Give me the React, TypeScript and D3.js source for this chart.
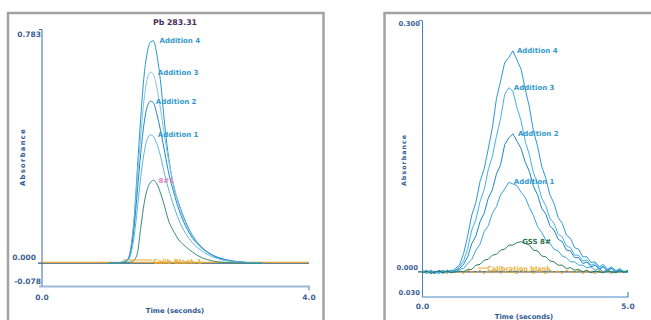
import React from 'react'
import * as d3 from 'd3'

// ---- left panel (Pb 283.31) ----
const leftTitle = 'Pb 283.31'
const leftTime = [1.0, 1.2, 1.28, 1.33, 1.38, 1.43, 1.48, 1.53, 1.58, 1.63, 1.67, 1.72, 1.78, 1.84, 1.9, 1.97, 2.05, 2.15, 2.25, 2.4, 2.55, 2.7, 2.9, 3.1, 3.3]
const leftAdd4 = [0, 0.003, 0.012, 0.05, 0.15, 0.32, 0.49, 0.63, 0.71, 0.742, 0.745, 0.70, 0.60, 0.46, 0.35, 0.26, 0.2, 0.14, 0.095, 0.052, 0.028, 0.015, 0.006, 0.002, 0]
const leftAdd3 = [0, 0.003, 0.012, 0.045, 0.14, 0.29, 0.43, 0.55, 0.62, 0.64, 0.632, 0.59, 0.51, 0.42, 0.34, 0.265, 0.195, 0.135, 0.092, 0.052, 0.028, 0.015, 0.006, 0.002, 0]
const leftAdd2 = [0, 0.003, 0.01, 0.04, 0.12, 0.245, 0.37, 0.47, 0.527, 0.543, 0.537, 0.5, 0.44, 0.37, 0.3, 0.24, 0.18, 0.125, 0.086, 0.05, 0.027, 0.014, 0.006, 0.002, 0]
const leftAdd1 = [0, 0.003, 0.008, 0.03, 0.09, 0.185, 0.29, 0.37, 0.418, 0.43, 0.424, 0.4, 0.355, 0.295, 0.245, 0.195, 0.145, 0.1, 0.07, 0.04, 0.022, 0.011, 0.005, 0.002, 0]
const leftSample = [0, 0.001, 0.002, 0.004, 0.01, 0.035, 0.12, 0.2, 0.25, 0.272, 0.278, 0.266, 0.232, 0.188, 0.14, 0.108, 0.078, 0.056, 0.038, 0.018, 0.008, 0.003, 0.001, 0, 0]
const leftBlankTime = [0, 4]
const leftBlank = [0.003, 0.003]
const leftYTicks = ['0.783', '0.000', '-0.078']
const leftXTicks = ['0.0', '4.0']

// ---- right panel ----
const rightTime = [0, 0.1, 0.2, 0.3, 0.4, 0.5, 0.6, 0.7, 0.8, 0.9, 1.0, 1.1, 1.2, 1.3, 1.4, 1.5, 1.6, 1.7, 1.8, 1.9, 2.0, 2.1, 2.2, 2.3, 2.4, 2.5, 2.6, 2.7, 2.8, 2.9, 3.0, 3.1, 3.2, 3.3, 3.4, 3.5, 3.6, 3.7, 3.8, 3.9, 4.0, 4.1, 4.2, 4.3, 4.4, 4.5, 4.6, 4.7, 4.8, 4.9, 5.0]
const rightAdd4 = [0.001, -0.002, 0.002, -0.001, 0.001, -0.002, 0.002, 0, 0.004, 0.008, 0.022, 0.043, 0.068, 0.083, 0.108, 0.123, 0.147, 0.172, 0.207, 0.228, 0.25, 0.256, 0.264, 0.253, 0.242, 0.218, 0.197, 0.168, 0.15, 0.126, 0.112, 0.092, 0.082, 0.065, 0.058, 0.044, 0.04, 0.029, 0.027, 0.018, 0.018, 0.011, 0.012, 0.006, 0.009, 0.003, 0.006, 0.001, 0.004, 0, 0.002]
const rightAdd3 = [0, 0.002, -0.002, 0.001, -0.001, 0.002, -0.001, 0.001, 0.002, 0.006, 0.013, 0.028, 0.05, 0.063, 0.084, 0.098, 0.122, 0.138, 0.162, 0.183, 0.212, 0.22, 0.216, 0.196, 0.18, 0.156, 0.14, 0.118, 0.106, 0.088, 0.079, 0.064, 0.058, 0.045, 0.042, 0.031, 0.029, 0.02, 0.02, 0.013, 0.014, 0.008, 0.01, 0.004, 0.007, 0.002, 0.005, 0, 0.003, -0.001, 0.002]
const rightAdd2 = [-0.001, 0.001, 0, -0.002, 0.002, 0, 0.001, -0.001, 0.002, 0.004, 0.009, 0.018, 0.034, 0.043, 0.06, 0.07, 0.088, 0.098, 0.117, 0.128, 0.152, 0.16, 0.165, 0.156, 0.147, 0.131, 0.12, 0.102, 0.092, 0.076, 0.069, 0.055, 0.05, 0.039, 0.036, 0.026, 0.025, 0.017, 0.017, 0.01, 0.012, 0.006, 0.008, 0.003, 0.006, 0.001, 0.004, 0, 0.002, -0.001, 0.001]
const rightAdd1 = [0.002, -0.001, 0.001, 0, -0.002, 0.001, 0, 0.002, 0, 0.003, 0.004, 0.01, 0.015, 0.026, 0.033, 0.048, 0.055, 0.07, 0.078, 0.092, 0.099, 0.107, 0.105, 0.103, 0.095, 0.089, 0.077, 0.067, 0.054, 0.047, 0.038, 0.034, 0.027, 0.025, 0.019, 0.017, 0.012, 0.012, 0.008, 0.008, 0.005, 0.006, 0.002, 0.004, 0, 0.003, -0.001, 0.002, 0, 0.001, -0.001]
const rightSample = [-0.001, 0.001, -0.002, 0, 0.001, -0.001, 0.001, -0.001, 0, 0.001, 0, 0.003, 0.003, 0.008, 0.009, 0.014, 0.015, 0.02, 0.021, 0.026, 0.027, 0.032, 0.032, 0.035, 0.036, 0.034, 0.032, 0.026, 0.025, 0.019, 0.018, 0.013, 0.012, 0.008, 0.008, 0.004, 0.005, 0.002, 0.003, 0, 0.002, -0.001, 0.001, 0, -0.001, 0.001, 0, -0.001, 0.001, 0, 0.001]
const rightBlank = [0.001, -0.001, 0.002, -0.002, 0.001, 0, -0.002, 0.002, -0.001, 0.001, -0.002, 0.002, 0, -0.001, 0.002, -0.002, 0.001, -0.001, 0.002, -0.002, 0.001, -0.001, 0, -0.002, 0.002, -0.001, 0.001, -0.002, 0.001, 0, -0.002, 0.002, -0.001, 0.001, -0.002, 0.002, 0, -0.001, 0.002, -0.002, 0.001, 0, -0.002, 0.002, -0.001, 0.001, -0.002, 0.002, 0, -0.001, 0.001]
const rightYTicks = ['0.300', '0.000', '0.030']
const rightXTicks = ['0.0', '5.0']

const additionNames = ['Addition 4', 'Addition 3', 'Addition 2', 'Addition 1']

const tickFont = { fontFamily: '"DejaVu Sans", Verdana, sans-serif', fontWeight: 700 }
const axisBlue = '#3d6a9e'
const labelBlue = '#3399cc'

function peakOf(vals: number[], times: number[]) {
  let i = d3.maxIndex(vals)
  return { t: times[i], v: vals[i] }
}

function LeftPanel() {
  const x = d3.scaleLinear().domain([0, 4]).range([42, 309])
  const y = d3.scaleLinear().domain([-0.078, 0.783]).range([286.5, 29.5])
  const line = d3.line<number>()
    .x((d, i) => x(leftTime[i]))
    .y(d => y(d))
    .curve(d3.curveMonotoneX)
  const blankLine = d3.line<number>().x((d, i) => x(leftBlankTime[i])).y(d => y(d))

  const adds = [leftAdd4, leftAdd3, leftAdd2, leftAdd1]
  const addColors = ['#2a96d0', '#7cc3e6', '#1f88c4', '#5ab4e0']
  const labelDx = [6, 7, 5, 7]
  const sPeak = peakOf(leftSample, leftTime)

  return (
    <g>
      <rect x={8} y={13} width={315.5} height={330} fill='#fff' stroke='#a3a3a3' strokeWidth={2.5} />
      <text x={175} y={25} textAnchor='middle' fontSize={7.8} fill='#4b2d5e' style={tickFont}>{leftTitle}</text>

      {/* axes */}
      <path d={`M39,${y(0.783)}H42V${y(-0.078)}`} fill='none' stroke={axisBlue} strokeWidth={1} />
      <path d={`M39,${y(-0.078)}H${x(4)}v4`} fill='none' stroke='#9bb8d8' strokeWidth={2} />
      <line x1={38} x2={x(4)} y1={y(0)} y2={y(0)} stroke='#2c5a86' strokeWidth={1.2} />

      <text x={41} y={y(0.783) + 7} textAnchor='end' fontSize={7.5} fill='#3d5f96' style={tickFont}>{leftYTicks[0]}</text>
      <text x={36} y={y(0) - 3} textAnchor='end' fontSize={7.5} fill='#3d5f96' style={tickFont}>{leftYTicks[1]}</text>
      <text x={41} y={y(-0.078) - 3} textAnchor='end' fontSize={7.5} fill='#3d5f96' style={tickFont}>{leftYTicks[2]}</text>
      <text x={x(0)} y={300} textAnchor='middle' fontSize={7.5} fill='#3d5f96' style={tickFont}>{leftXTicks[0]}</text>
      <text x={x(4)} y={300} textAnchor='middle' fontSize={7.5} fill='#3d5f96' style={tickFont}>{leftXTicks[1]}</text>
      <text x={175} y={313} textAnchor='middle' fontSize={6.8} fill='#2e5a94' style={tickFont}>Time (seconds)</text>
      <text transform='translate(25,157) rotate(-90)' textAnchor='middle' fontSize={6.8} letterSpacing={1.3} fill='#2e5a94' style={tickFont}>Absorbance</text>

      {/* calib blank label sits under the traces */}
      <line x1={123} x2={152} y1={260} y2={260} stroke='#e8a830' strokeWidth={1} />
      <text x={153} y={264} fontSize={6.6} fill='#e8a830' style={tickFont}>Calib Blank 1</text>
      <path d={blankLine(leftBlank) || ''} fill='none' stroke='#e3a52e' strokeWidth={1.2} />

      {adds.map((vals, k) => (
        <path key={k} d={line(vals) || ''} fill='none' stroke={addColors[k]} strokeWidth={1} />
      ))}
      <path d={line(leftSample) || ''} fill='none' stroke='#3b8a78' strokeWidth={1} />

      {adds.map((vals, k) => {
        const p = peakOf(vals, leftTime)
        return (
          <text key={k} x={x(p.t) + labelDx[k]} y={y(p.v) + 2.5} fontSize={7} fill={labelBlue} style={tickFont}>{additionNames[k]}</text>
        )
      })}
      <text x={x(sPeak.t) + 5} y={y(sPeak.v) + 2.5} fontSize={7} fill='#d68ac6' style={tickFont}>8#1</text>
    </g>
  )
}

function RightPanel() {
  const x = d3.scaleLinear().domain([0, 5]).range([422.5, 628])
  const y = d3.scaleLinear().domain([-0.03, 0.3]).range([297, 20.7])
  const line = d3.line<number>()
    .x((d, i) => x(rightTime[i]))
    .y(d => y(d))

  const adds = [rightAdd4, rightAdd3, rightAdd2, rightAdd1]
  const addColors = ['#2a9ad6', '#48b0e2', '#1e88c8', '#3aa4dc']
  const labelDx = [4, 5, 5, 5]
  const sPeak = peakOf(rightSample, rightTime)

  return (
    <g>
      <rect x={384.5} y={13} width={400} height={330} fill='#fff' stroke='#a3a3a3' strokeWidth={2.5} />

      <path d={`M419,${y(0.3)}H422.5V${y(-0.03)}`} fill='none' stroke='#4a7fc0' strokeWidth={1} />
      <path d={`M422.5,${y(-0.03)}H${x(5)}v-5`} fill='none' stroke='#4f88c8' strokeWidth={1.2} />
      <line x1={418} x2={x(5)} y1={y(0)} y2={y(0)} stroke='#2c5a86' strokeWidth={1.2} />

      <text x={420} y={y(0.3) + 5.5} textAnchor='end' fontSize={6.8} fill='#3d5f96' style={tickFont}>{rightYTicks[0]}</text>
      <text x={418} y={y(0) - 1.5} textAnchor='end' fontSize={6.8} fill='#3d5f96' style={tickFont}>{rightYTicks[1]}</text>
      <text x={420} y={y(-0.03) - 2} textAnchor='end' fontSize={6.8} fill='#3d5f96' style={tickFont}>{rightYTicks[2]}</text>
      <text x={x(0)} y={309} textAnchor='middle' fontSize={7.5} fill='#3d5f96' style={tickFont}>{rightXTicks[0]}</text>
      <text x={x(5)} y={309} textAnchor='middle' fontSize={7.5} fill='#3d5f96' style={tickFont}>{rightXTicks[1]}</text>
      <text x={524} y={319} textAnchor='middle' fontSize={6.8} fill='#2e5a94' style={tickFont}>Time (seconds)</text>
      <text transform='translate(406,160) rotate(-90)' textAnchor='middle' fontSize={6.2} letterSpacing={1.1} fill='#2e5a94' style={tickFont}>Absorbance</text>

      <line x1={478} x2={487} y1={268} y2={268} stroke='#e8a830' strokeWidth={1} />
      <text x={487} y={271} fontSize={6.6} fill='#e8b040' style={tickFont}>Calibration blank</text>

      <path d={line(rightBlank) || ''} fill='none' stroke='#e3a52e' strokeWidth={1} />
      {adds.map((vals, k) => (
        <path key={k} d={line(vals) || ''} fill='none' stroke={addColors[k]} strokeWidth={1} />
      ))}
      <path d={line(rightSample) || ''} fill='none' stroke='#2f7d5a' strokeWidth={1} />

      {adds.map((vals, k) => {
        const p = peakOf(vals, rightTime)
        return (
          <text key={k} x={x(p.t) + labelDx[k]} y={y(p.v) + 2} fontSize={7} fill={labelBlue} style={tickFont}>{additionNames[k]}</text>
        )
      })}
      <text x={x(sPeak.t) + 1} y={y(sPeak.v) + 2} fontSize={7} fill='#2e6e50' style={tickFont}>GSS 8#</text>
    </g>
  )
}

export default function App() {
  return (
    <svg width={651} height={320} style={{ position: 'absolute', left: 0, top: 0, background: '#fff' }}>
      <rect x={0} y={0} width={651} height={320} fill='#fff' />
      <LeftPanel />
      <RightPanel />
    </svg>
  )
}
